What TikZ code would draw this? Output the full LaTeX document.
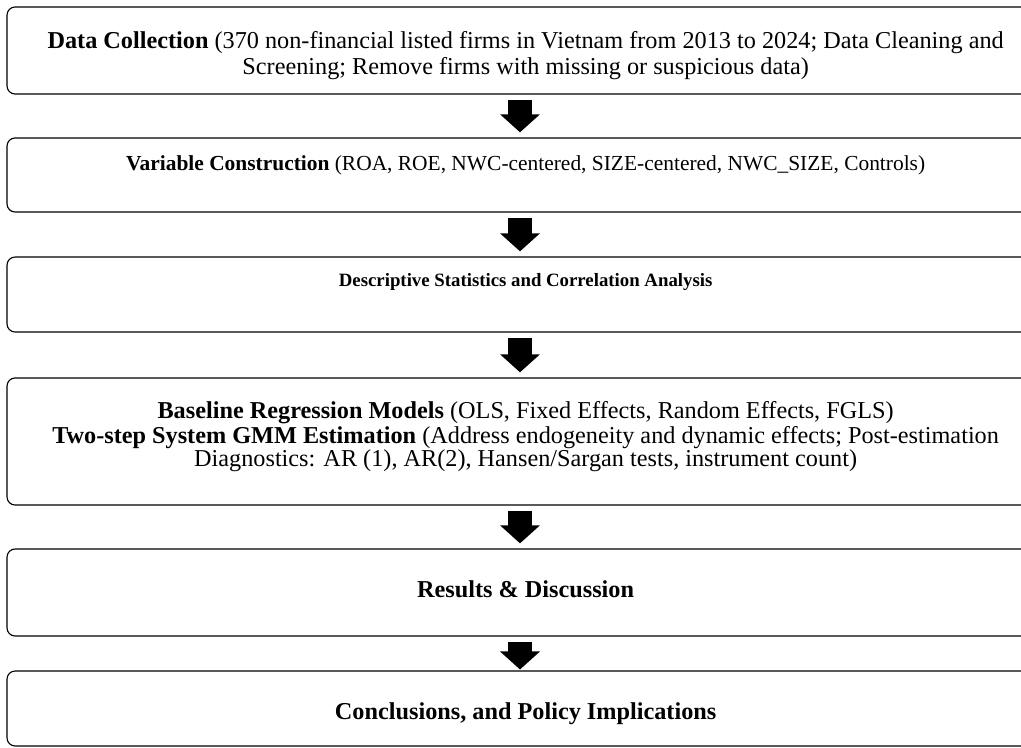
\documentclass[tikz,border=0pt]{standalone}
\usepackage{fontspec}
\setmainfont{Liberation Serif}
\usetikzlibrary{arrows.meta}

\tikzset{
  blocco/.style={draw, line width=0.6pt, rounded corners=4.3pt, minimum width=545.8pt, inner sep=0pt},
  testo/.style={align=center, inner sep=0pt, xshift=3pt, font=\fontsize{12.9}{13.8}\selectfont},
  piccolo/.style={font=\fontsize{11.4}{13}\selectfont},
  freccia/.style={line width=12.8pt, -{Triangle[width=20.7pt, length=9.6pt]},
    shorten <=2.7pt, shorten >=2.7pt}
}

\begin{document}
\begin{tikzpicture}[x=0.532pt, y=-0.532pt]
              \useasboundingbox (0,0) rectangle (1021,747);
              \clip (0,0) rectangle (1021,747);

              % Blocchi
              \node[blocco, minimum height=46.3pt] (0) at (520, 50.5) {};
              \node[blocco, minimum height=39.4pt] (1) at (520, 175) {};
              \node[blocco, minimum height=39.9pt] (2) at (520, 294.5) {};
              \node[blocco, minimum height=67.6pt] (3) at (520, 441.5) {};
              \node[blocco, minimum height=46.3pt] (4) at (520, 592.5) {};
              \node[blocco, minimum height=39.9pt] (5) at (520, 708.5) {};

              % Testi
              \node[testo, yshift=-2.7pt] (t0) at (0)
                {\textbf{Data Collection} (370 non-financial listed firms in Vietnam from 2013 to 2024; Data Cleaning and\\
                 Screening; Remove firms with missing or suspicious data)};
              \node[testo, piccolo, yshift=5.1pt] (t1) at (1)
                {\textbf{Variable Construction} (ROA, ROE, NWC-centered, SIZE-centered, NWC\_SIZE, Controls)};
              \node[testo, yshift=6.4pt, font=\fontsize{10}{12}\selectfont] (t2) at (2)
                {\textbf{Descriptive Statistics and Correlation Analysis}};
              \node[testo, yshift=2.7pt, font=\fontsize{12.9}{12.4}\selectfont] (t3) at (3)
                {\textbf{Baseline Regression Models} (OLS, Fixed Effects, Random Effects, FGLS)\\[1pt]
                 \textbf{Two-step System GMM Estimation} (Address endogeneity and dynamic effects; Post-estimation\\
                 Diagnostics: AR (1), AR(2), Hansen/Sargan tests, instrument count)};
              \node[testo, yshift=1.6pt] (t4) at (4)
                {\textbf{Results \& Discussion}};
              \node[testo, yshift=-2.7pt] (t5) at (5)
                {\textbf{Conclusions, and Policy Implications}};

              % Frecce
              \draw[freccia] (0) -- (1);
              \draw[freccia] (1) -- (2);
              \draw[freccia] (2) -- (3);
              \draw[freccia] (3) -- (4);
              \draw[freccia, shorten >=0.5pt] (4) -- (5);
\end{tikzpicture}
\end{document}
